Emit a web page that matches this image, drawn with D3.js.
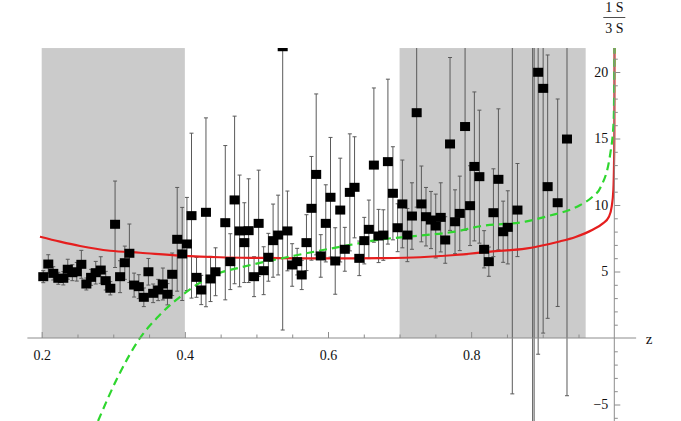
<!DOCTYPE html>
<html><head><meta charset="utf-8">
<script src="https://cdn.jsdelivr.net/npm/d3@7"></script>
<style>
html,body{margin:0;padding:0;background:#fff;}
svg text{font-family:"Liberation Serif","Times New Roman",serif;}
</style></head>
<body>
<svg id="chart" width="681" height="421"></svg>
<script>
// ---------- data ----------
const pointZ = [0.2022,0.2092,0.2162,0.2232,0.2302,0.2364,0.2428,0.2490,0.2554,0.2624,0.2690,0.2755,0.2825,0.2895,0.2959,0.3025,0.3095,0.3161,0.3225,0.3291,0.3357,0.3427,0.3491,0.3557,0.3627,0.3693,0.3757,0.3823,0.3893,0.3963,0.4029,0.4093,0.4163,0.4229,0.4295,0.4359,0.4429,0.4565,0.4635,0.4695,0.4765,0.4831,0.4891,0.4967,0.5031,0.5101,0.5167,0.5233,0.5303,0.5367,0.5433,0.5499,0.5569,0.5633,0.5699,0.5769,0.5835,0.5899,0.5969,0.6035,0.6101,0.6171,0.6235,0.6305,0.6371,0.6437,0.6507,0.6571,0.6641,0.6707,0.6773,0.6837,0.6907,0.6973,0.7039,0.7109,0.7173,0.7239,0.7305,0.7369,0.7439,0.7505,0.7575,0.7638,0.7705,0.7775,0.7841,0.7915,0.7985,0.8045,0.8115,0.8181,0.8247,0.8311,0.8381,0.8447,0.8512,0.8575,0.8647,0.8859,0.8880,0.8936,0.9006,0.9069,0.9209,0.9339,0.9409];
const pointValue = [4.61,5.56,4.86,4.49,4.49,5.17,4.91,4.98,5.54,4.06,4.56,4.91,5.11,4.31,3.74,8.55,4.61,5.66,6.37,3.98,3.86,3.06,4.98,3.36,3.61,4.06,3.29,4.79,7.42,6.32,7.07,9.2,4.56,3.61,9.45,4.44,4.98,8.67,5.74,10.38,8.05,7.17,8.07,4.61,8.62,5.06,6.07,7.32,7.74,21.9,8.05,5.49,5.74,4.74,7.17,9.75,12.3,6.17,8.62,10.58,5.79,9.62,6.67,10.95,11.33,5.99,7.32,8.17,13.0,7.67,7.74,13.26,10.88,8.29,10.08,7.74,9.17,16.94,10.08,9.12,8.87,8.42,9.07,7.37,14.59,8.74,9.37,15.9,9.95,12.9,12.13,6.67,5.74,9.42,11.93,7.99,8.32,24.0,9.62,25.0,24.0,19.98,18.77,11.38,10.17,14.96];
const pointError = [0.45,0.7,0.5,0.45,0.5,0.75,0.6,0.7,1.05,0.45,0.6,0.85,1.0,0.7,0.5,3.25,1.2,1.25,2.2,0.9,0.9,0.7,1.0,0.7,0.8,1.2,0.8,1.6,3.9,3.5,3.5,6.2,1.5,1.1,7.1,1.7,1.8,5.8,2.1,6.3,4.2,3.0,3.9,1.5,4.0,1.8,1.8,2.75,3.0,21.3,3.0,1.6,1.0,1.1,2.1,3.9,6.05,1.6,2.9,4.5,2.5,3.9,1.65,4.4,3.8,1.3,1.75,2.2,5.8,2.0,1.9,6.2,3.5,1.8,3.3,2.0,2.5,7.1,2.85,2.2,2.15,2.4,2.6,1.75,6.5,2.4,2.8,7.8,3.0,5.6,5.0,1.4,1.1,3.3,5.3,2.3,2.75,28.2,3.5,36,34,21.2,18.4,9.9,7.8,19.3];

const redZ =     [0.1976,0.2256,0.2535,0.2955,0.3374,0.3933,0.4492,0.5051,0.5610,0.6170,0.6729,0.7288,0.7777,0.8269,0.8758,0.9221,0.9459,0.9690,0.9836,0.9925,0.9964,0.9987,0.9996,1.0001,1.0003];
const redValue = [7.62,7.25,6.92,6.56,6.41,6.20,6.07,6.02,5.99,5.98,6.00,6.07,6.24,6.50,6.72,7.24,7.60,8.12,8.60,9.12,9.90,11.13,13.0,15.5,21.8];

const greenZ =     [0.2787,0.3067,0.3374,0.3626,0.3933,0.4492,0.4772,0.5541,0.6310,0.6729,0.7288,0.7777,0.8127,0.8758,0.9064,0.9525,0.9692,0.9805,0.9945,0.9992,1.0003];
const greenValue = [-6.24,-2.9,0,1.6,3.1,4.9,5.3,6.2,7.0,7.4,7.7,8.0,8.4,8.75,9.15,10.0,10.6,11.3,13.9,16.4,21.8];

const bandStart = [0.2,0.7];
const bandEnd   = [0.4,0.96];

const xTickValues = [0.2,0.4,0.6,0.8];
const xMinorTicks = [0.25,0.3,0.35,0.45,0.5,0.55,0.65,0.7,0.75,0.85,0.9,0.95];
const yTickValues = [-5,5,10,15,20];
const yMinorTicks = [-6,-4,-3,-2,-1,1,2,3,4,6,7,8,9,11,12,13,14,16,17,18,19,21];

// ---------- layout ----------
const svg = d3.select("#chart");
const W = 681, H = 421;
const x = d3.scaleLinear().domain([0.2,1.0]).range([41.7,614.3]);
const y = d3.scaleLinear().domain([0,20]).range([338,72]);
const yTop = 21.8, xLeft = 0.18, xRight = 1.03;

svg.append("defs").append("clipPath").attr("id","plotclip")
  .append("rect").attr("x",x(xLeft)).attr("y",y(yTop))
  .attr("width",x(xRight)-x(xLeft)).attr("height",H-y(yTop));

const plot = svg.append("g").attr("clip-path","url(#plotclip)");

// bands
plot.selectAll("rect.band").data(d3.range(bandStart.length)).enter().append("rect")
  .attr("class","band")
  .attr("x",i=>x(bandStart[i])).attr("width",i=>x(bandEnd[i])-x(bandStart[i]))
  .attr("y",y(yTop)).attr("height",y(0)-y(yTop))
  .attr("fill","#cbcbcb");

// axes
const axisColor = "#8c8c8c";
const xAxisG = svg.append("g").attr("transform",`translate(0,${y(0)})`);
xAxisG.append("line").attr("x1",x(xLeft)).attr("x2",x(1.0305)).attr("stroke",axisColor);
xAxisG.append("g").call(d3.axisBottom(x).tickValues(xMinorTicks).tickSize(-3.5).tickFormat(""))
  .call(g=>{g.select(".domain").remove();g.selectAll("line").attr("stroke",axisColor);});
xAxisG.append("g").call(d3.axisBottom(x).tickValues(xTickValues).tickSize(-6).tickPadding(12).tickFormat(d3.format(".1f")))
  .call(g=>{g.select(".domain").remove();g.selectAll("line").attr("stroke",axisColor);
    g.selectAll("text").attr("fill","#111").style("font-size","14px").style("font-family","Liberation Serif, serif");});
svg.append("text").attr("x",649).attr("y",y(0)+6).attr("text-anchor","middle")
  .style("font-size","15px").attr("fill","#111").text("z");

const yAxisG = svg.append("g").attr("transform",`translate(${x(1.0)},0)`);
yAxisG.append("line").attr("y1",y(yTop)).attr("y2",H).attr("stroke",axisColor);
yAxisG.append("g").call(d3.axisLeft(y).tickValues(yMinorTicks).tickSize(-3.5).tickFormat(""))
  .call(g=>{g.select(".domain").remove();g.selectAll("line").attr("stroke",axisColor);});
yAxisG.append("g").call(d3.axisLeft(y).tickValues(yTickValues).tickSize(-6).tickPadding(6)
    .tickFormat(d=>d<0?"\u2212"+Math.abs(d):String(d)))
  .call(g=>{g.select(".domain").remove();g.selectAll("line").attr("stroke",axisColor);
    g.selectAll("text").attr("fill","#111").style("font-size","14px").style("font-family","Liberation Serif, serif");});

// fraction label
const fx = x(1.0);
svg.append("text").attr("x",fx).attr("y",12).attr("text-anchor","middle").style("font-size","14px").attr("fill","#111").text("1 S");
svg.append("line").attr("x1",fx-11).attr("x2",fx+11).attr("y1",17.5).attr("y2",17.5).attr("stroke","#222").attr("stroke-width",0.8);
svg.append("text").attr("x",fx).attr("y",33).attr("text-anchor","middle").style("font-size","14px").attr("fill","#111").text("3 S");

// error bars
const idx = d3.range(pointZ.length);
const eb = plot.append("g").attr("stroke","#5a5a5a").attr("stroke-width",1);
eb.selectAll("line.v").data(idx).enter().append("line")
  .attr("x1",i=>x(pointZ[i])).attr("x2",i=>x(pointZ[i]))
  .attr("y1",i=>y(pointValue[i]+pointError[i])).attr("y2",i=>y(pointValue[i]-pointError[i]));
eb.selectAll("line.t").data(idx).enter().append("line")
  .attr("x1",i=>x(pointZ[i])-2).attr("x2",i=>x(pointZ[i])+2)
  .attr("y1",i=>y(pointValue[i]+pointError[i])).attr("y2",i=>y(pointValue[i]+pointError[i]));
eb.selectAll("line.b").data(idx).enter().append("line")
  .attr("x1",i=>x(pointZ[i])-2).attr("x2",i=>x(pointZ[i])+2)
  .attr("y1",i=>y(pointValue[i]-pointError[i])).attr("y2",i=>y(pointValue[i]-pointError[i]));

// curves
const line = d3.line().curve(d3.curveMonotoneX);
plot.append("path").datum(redZ.map((z,i)=>[x(z),y(redValue[i])]))
  .attr("d",line).attr("fill","none").attr("stroke","#e51e1e").attr("stroke-width",2.2);
plot.append("path").datum(greenZ.map((z,i)=>[x(z),y(greenValue[i])]))
  .attr("d",line).attr("fill","none").attr("stroke","#2fd62f").attr("stroke-width",2.2)
  .attr("stroke-dasharray","8,5");

// markers
plot.selectAll("rect.pt").data(idx).enter().append("rect")
  .attr("class","pt")
  .attr("x",i=>x(pointZ[i])-5).attr("y",i=>y(pointValue[i])-4.5)
  .attr("width",10).attr("height",9).attr("fill","#000");
</script>
</body></html>
